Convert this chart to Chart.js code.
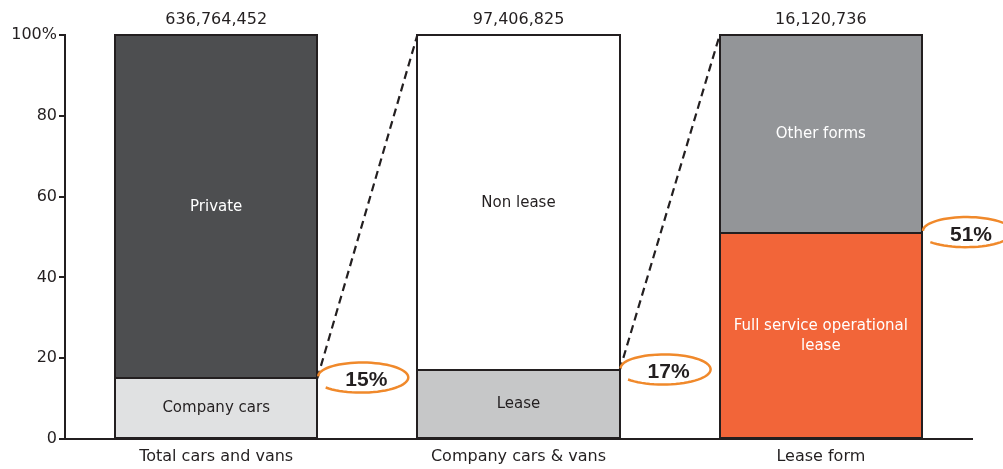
<!DOCTYPE html>
<html>
<head>
<meta charset="utf-8">
<script src="https://cdn.jsdelivr.net/npm/chart.js@4/dist/chart.umd.min.js"></script>
<style>
    body { margin: 0; background: #ffffff; }
    #wrap { width: 1003px; height: 469px; position: relative; }
</style>
</head>
<body>
<div id="wrap"><canvas id="barChart"></canvas></div>
<script>
// chart values
const categories = ["Total cars and vans", "Company cars & vans", "Lease form"];
const totals = ["636,764,452", "97,406,825", "16,120,736"];
const lowerValues = [15, 17, 51];
const upperValues = [85, 83, 49];
const lowerNames = ["Company cars", "Lease", ["Full service operational", "lease"]];
const upperNames = ["Private", "Non lease", "Other forms"];
const callouts = ["15%", "17%", "51%"];
const yTicks = [0, 20, 40, 60, 80, 100];

const ink = "#231f20";
const lowerColors = ["#e0e1e2", "#c6c7c8", "#f26539"];
const upperColors = ["#4d4e50", "#ffffff", "#939598"];
const lowerTextColors = [ink, ink, "#ffffff"];
const upperTextColors = ["#ffffff", ink, "#ffffff"];

// outlines, labels inside the bars, totals on top, dashed links and orange callouts
var extrasPlugin = {
    id: "extras",
    afterDatasetsDraw: function (chart) {
        var ctx = chart.ctx;
        var low = chart.getDatasetMeta(0).data;
        var up = chart.getDatasetMeta(1).data;
        ctx.save();

        // bar outlines, one shared line between segments
        ctx.strokeStyle = ink;
        ctx.lineWidth = 2;
        [low, up].forEach(function (els) {
            els.forEach(function (el) {
                var l = Math.round(el.x - el.width / 2);
                var r = Math.round(el.x + el.width / 2);
                var t = Math.round(el.y);
                var bt = Math.round(el.base);
                ctx.strokeRect(l, t, r - l, bt - t);
            });
        });

        ctx.textAlign = "center";
        ctx.textBaseline = "middle";

        // segment labels
        ctx.font = "15px 'DejaVu Sans'";
        for (var i = 0; i < categories.length; i++) {
            var b = low[i];
            var mid = (b.y + b.base) / 2;
            var name = lowerNames[i];
            ctx.fillStyle = lowerTextColors[i];
            if (Array.isArray(name)) {
                ctx.fillText(name[0], b.x, mid - 9);
                ctx.fillText(name[1], b.x, mid + 11);
            } else {
                ctx.fillText(name, b.x, mid);
            }
            var u = up[i];
            ctx.fillStyle = upperTextColors[i];
            ctx.fillText(upperNames[i], u.x, (u.y + u.base) / 2);
        }

        // totals on top
        ctx.font = "16px 'DejaVu Sans'";
        ctx.fillStyle = ink;
        for (var j = 0; j < categories.length; j++) {
            ctx.fillText(totals[j], up[j].x, up[j].y - 15);
        }

        // dashed links
        ctx.strokeStyle = ink;
        ctx.lineWidth = 2.2;
        ctx.setLineDash([8, 5]);
        for (var k = 0; k < categories.length - 1; k++) {
            ctx.beginPath();
            ctx.moveTo(low[k].x + low[k].width / 2, low[k].y);
            ctx.lineTo(up[k + 1].x - up[k + 1].width / 2, up[k + 1].y);
            ctx.stroke();
        }
        ctx.setLineDash([]);

        // orange hand drawn ellipses
        for (var m = 0; m < categories.length; m++) {
            var edge = low[m].x + low[m].width / 2;
            var cx = edge + 45;
            var cy = low[m].y - 2;
            var rx = 44, ry = 14;
            ctx.strokeStyle = "#f0892b";
            ctx.lineWidth = 2.5;
            ctx.beginPath();
            var steps = 60;
            for (var s = 0; s <= steps; s++) {
                var f = s / steps;
                var a = Math.PI + f * 1.78 * Math.PI;
                var grow = 1 + 0.08 * f;
                var px = cx + Math.cos(a) * rx * grow;
                var py = cy + Math.sin(a) * ry * grow + 1.5 * f;
                if (s === 0) ctx.moveTo(px, py); else ctx.lineTo(px, py);
            }
            ctx.stroke();
            ctx.fillStyle = ink;
            ctx.font = "bold 21px 'Liberation Sans'";
            ctx.fillText(callouts[m], cx + 4, cy + 4);
        }
        ctx.restore();
    },
};

var barChartData = {
    labels: categories,
    datasets: [
        {
            label: "lower",
            data: lowerValues,
            backgroundColor: lowerColors,
            borderWidth: 0,
        },
        {
            label: "upper",
            data: upperValues,
            backgroundColor: upperColors,
            borderWidth: 0,
        },
    ],
};

var barChartOptions = {
    responsive: true,
    maintainAspectRatio: false,
    animation: false,
    layout: { padding: { top: 35, right: 31, left: 0, bottom: 0 } },
    plugins: { legend: { display: false }, tooltip: { enabled: false } },
    datasets: { bar: { categoryPercentage: 1, barPercentage: 0.669 } },
    scales: {
        x: {
            stacked: true,
            grid: { display: false, drawTicks: false },
            border: { display: true, color: ink, width: 2 },
            ticks: { color: ink, font: { family: "DejaVu Sans", size: 16 }, padding: 8 },
            afterFit: function (scale) { scale.height = 30; },
        },
        y: {
            stacked: true,
            min: 0,
            max: 100,
            afterBuildTicks: function (scale) {
                scale.ticks = yTicks.map(function (v) { return { value: v }; });
            },
            grid: { drawOnChartArea: false, tickLength: 6, color: ink, lineWidth: 2 },
            border: { display: true, color: ink, width: 2 },
            ticks: {
                color: ink,
                padding: 2,
                font: { family: "DejaVu Sans", size: 16 },
                callback: function (value) { return value === 100 ? "100%" : value; },
            },
            afterFit: function (scale) { scale.width = 65; },
        },
    },
};

new Chart(document.getElementById("barChart").getContext("2d"), {
    type: "bar",
    data: barChartData,
    options: barChartOptions,
    plugins: [extrasPlugin],
});
</script>
</body>
</html>
